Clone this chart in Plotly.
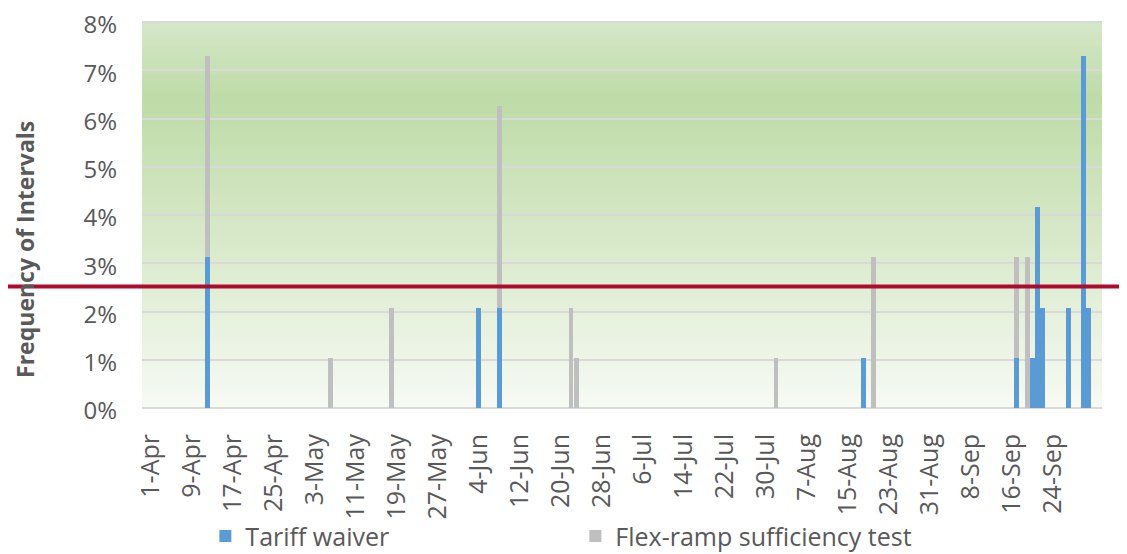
import plotly.graph_objects as go

# ---------------- data ----------------
dates = ["2017-04-12", "2017-05-06", "2017-05-18", "2017-06-04", "2017-06-08",
         "2017-06-22", "2017-06-23", "2017-08-01", "2017-08-18", "2017-08-20",
         "2017-09-17", "2017-09-19", "2017-09-20", "2017-09-21", "2017-09-22",
         "2017-09-27", "2017-09-30", "2017-10-01"]
tariff_waiver = [3.13, 0, 0, 2.08, 2.08, 0, 0, 0, 1.04, 0,
                 1.04, 0, 1.04, 4.17, 2.08, 2.08, 7.29, 2.08]
flex_ramp = [4.17, 1.04, 2.08, 0, 4.17, 2.08, 1.04, 1.04, 0, 3.13,
             2.08, 3.13, 0, 0, 0, 0, 0, 0]
threshold = 2.52

tick_dates = ["2017-04-01", "2017-04-09", "2017-04-17", "2017-04-25",
              "2017-05-03", "2017-05-11", "2017-05-19", "2017-05-27",
              "2017-06-04", "2017-06-12", "2017-06-20", "2017-06-28",
              "2017-07-06", "2017-07-14", "2017-07-22", "2017-07-30",
              "2017-08-07", "2017-08-15", "2017-08-23", "2017-08-31",
              "2017-09-08", "2017-09-16", "2017-09-24"]
tick_labels = ["1-Apr", "9-Apr", "17-Apr", "25-Apr", "3-May", "11-May",
               "19-May", "27-May", "4-Jun", "12-Jun", "20-Jun", "28-Jun",
               "6-Jul", "14-Jul", "22-Jul", "30-Jul", "7-Aug", "15-Aug",
               "23-Aug", "31-Aug", "8-Sep", "16-Sep", "24-Sep"]
y_ticks = [0, 1, 2, 3, 4, 5, 6, 7, 8]
y_tick_labels = ["0%", "1%", "2%", "3%", "4%", "5%", "6%", "7%", "8%"]

# ---------------- style ----------------
FONT = "Open Sans"
TXT = "#595959"
BLUE = "#5B9BD5"
GRAY = "#BFBFBF"
GRID = "#D9D9D9"
DAY_MS = 86400000

fig = go.Figure()
fig.add_trace(go.Bar(x=dates, y=tariff_waiver, name="Tariff waiver",
                     marker=dict(color=BLUE, line=dict(width=0)),
                     width=0.95 * DAY_MS))
fig.add_trace(go.Bar(x=dates, y=flex_ramp, name="Flex-ramp sufficiency test",
                     marker=dict(color=GRAY, line=dict(width=0)),
                     width=0.95 * DAY_MS))

# gradient plot background (strips in axis-domain coordinates)
stops = [(0.0, (247, 250, 244)), (0.80, (190, 219, 167)), (1.0, (213, 231, 201))]


def col_at(f):
    for (f0, c0), (f1, c1) in zip(stops[:-1], stops[1:]):
        if f0 <= f <= f1:
            t = (f - f0) / (f1 - f0)
            return "rgb(%d,%d,%d)" % tuple(round(a + (b - a) * t) for a, b in zip(c0, c1))
    return "rgb(%d,%d,%d)" % stops[-1][1]


N = 80
shapes = []
for i in range(N):
    f0, f1 = i / N, (i + 1) / N
    shapes.append(dict(type="rect", xref="x domain", yref="y domain",
                       x0=0, x1=1, y0=f0, y1=min(f1 + 0.002, 1), layer="below",
                       fillcolor=col_at((f0 + f1) / 2), line=dict(width=0)))
# top gridline (Plotly drops the grid line lying exactly on the range edge)
shapes.append(dict(type="line", xref="x domain", yref="y domain", x0=0, x1=1,
                   y0=1, y1=1, layer="below", line=dict(color=GRID, width=2)))
# threshold line across whole figure
shapes.append(dict(type="line", xref="paper", yref="y", x0=-0.2, x1=1.1,
                   y0=threshold, y1=threshold, layer="above",
                   line=dict(color="#AE0B2F", width=4)))

# the page body adds an 8px margin, so the figure is drawn 8px smaller
fig.update_layout(
    width=1119, height=546,
    margin=dict(l=134, r=25, t=14, b=146, autoexpand=False),
    paper_bgcolor="white", plot_bgcolor="white",
    barmode="stack",
    shapes=shapes,
    font=dict(family=FONT, color=TXT),
    showlegend=True,
    legend=dict(orientation="h", x=0.066, xanchor="left", y=-0.332, yanchor="middle",
                font=dict(size=25, color=TXT, family=FONT),
                entrywidth=325, entrywidthmode="pixels", traceorder="normal",
                bgcolor="rgba(0,0,0,0)"),
    annotations=[dict(text="Frequency of Intervals", xref="paper", yref="paper",
                      x=-0.1219, y=0.412, xanchor="center", yanchor="middle",
                      textangle=-90, showarrow=False,
                      font=dict(size=23, color=TXT, family=FONT, weight="bold"))],
)

fig.update_xaxes(type="date", range=["2017-03-30 06:43", "2017-10-03 14:24"],
                 tickmode="array", tickvals=tick_dates, ticktext=tick_labels,
                 tickangle=-90, showgrid=False, showline=False, zeroline=False,
                 ticks="", ticklabelstandoff=20,
                 tickfont=dict(size=25, color=TXT, family=FONT))
fig.update_yaxes(range=[0, 8], tickmode="array", tickvals=y_ticks,
                 ticktext=y_tick_labels, ticklabeloverflow="allow",
                 ticklabelshift=3,
                 showgrid=True, gridcolor=GRID, gridwidth=2,
                 zeroline=True, zerolinecolor=GRID, zerolinewidth=2,
                 showline=False, ticks="", ticklabelstandoff=24,
                 tickfont=dict(size=24, color=TXT, family=FONT))

fig.write_html("out.html")
